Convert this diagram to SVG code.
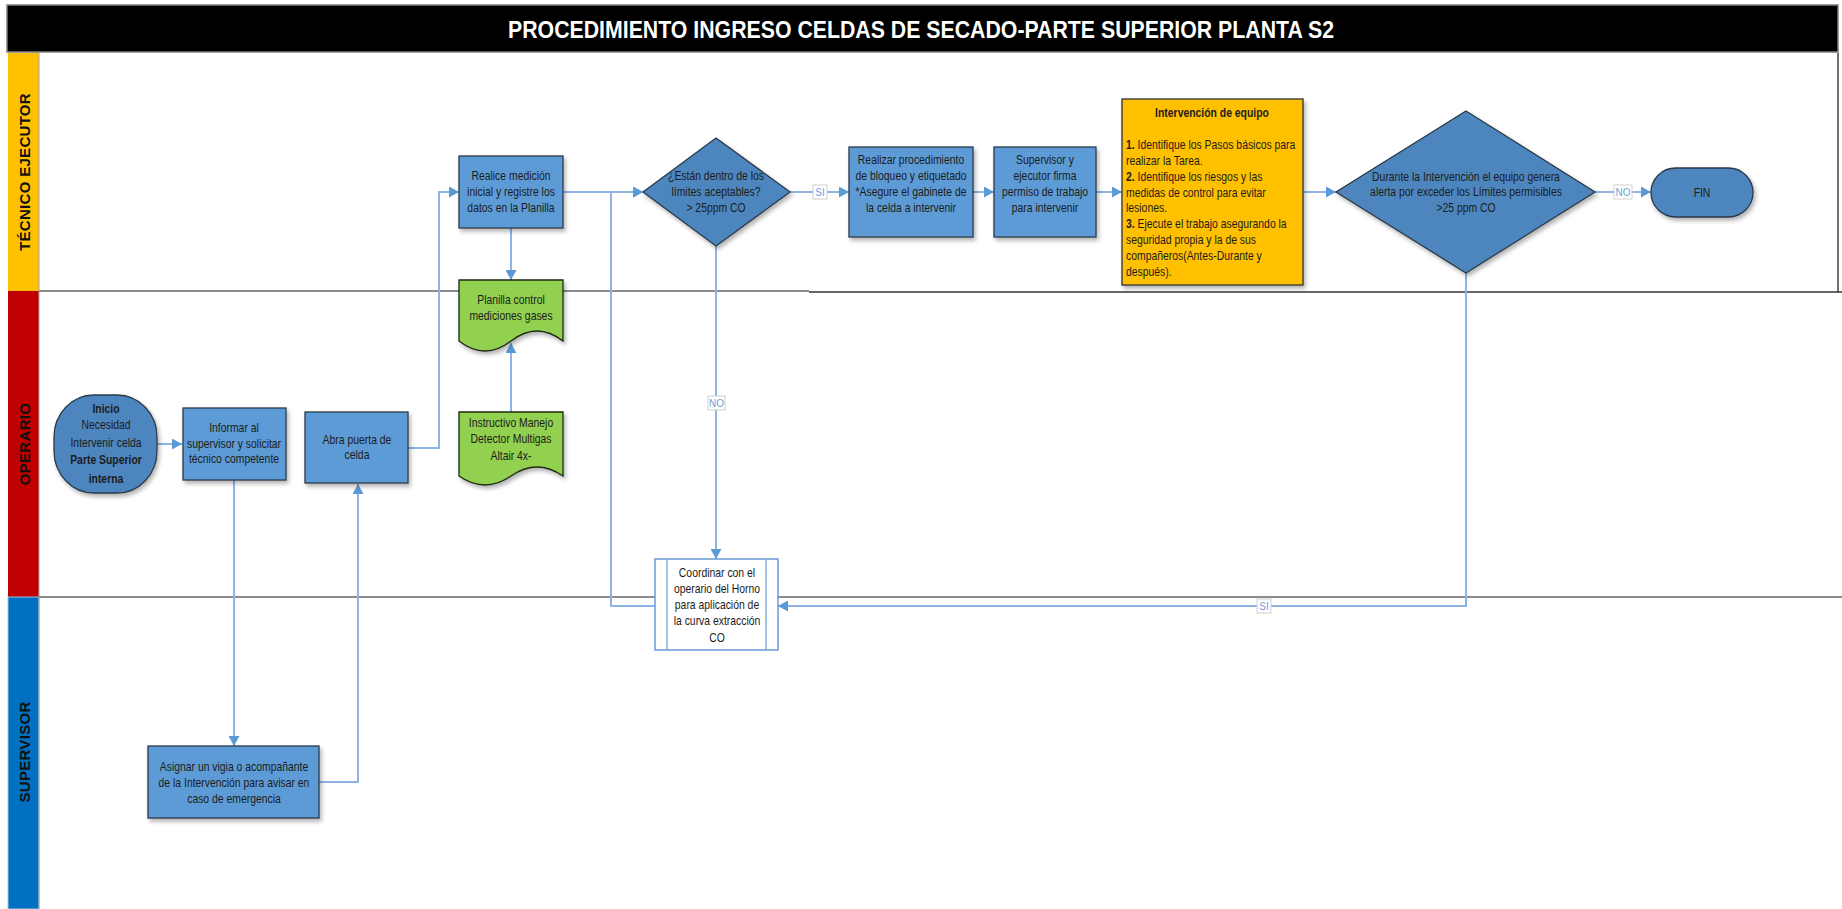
<svg xmlns="http://www.w3.org/2000/svg" width="1842" height="909" viewBox="0 0 1842 909">
<style>
.proc{fill:#5B9BD5;stroke:#2B3A4A;stroke-width:1.3;filter:url(#sh)}
.dec{fill:#4E86BE;stroke:#2B3A4A;stroke-width:1.3;filter:url(#sh)}
.doc{fill:#92D050;stroke:#1F2A12;stroke-width:1.3;filter:url(#sh)}
.note{fill:#FFC000;stroke:#333333;stroke-width:1.3;filter:url(#sh)}
.pre{fill:#FFFFFF;stroke:#6A9BD3;stroke-width:1.5}
.t{font-family:"Liberation Sans",Arial,sans-serif;font-size:13px;fill:#1C1C1C;text-anchor:middle}
.tl{font-family:"Liberation Sans",Arial,sans-serif;font-size:13px;fill:#1C1C1C;text-anchor:start}
.b{font-weight:bold}
.lane{font-family:"Liberation Sans",Arial,sans-serif;font-size:15px;font-weight:bold;fill:#111111;text-anchor:middle;letter-spacing:0.3px}
.c{fill:none;stroke:#8EB4E3;stroke-width:2}
.ca{fill:none;stroke:#8EB4E3;stroke-width:2;marker-end:url(#ar)}
.lb{fill:#FFFFFF;stroke:#D0D0D0;stroke-width:1}
.lt{font-family:"Liberation Sans",Arial,sans-serif;font-size:10px;fill:#6F9FD8;text-anchor:middle}
</style>
<defs>
<marker id="ar" markerWidth="11" markerHeight="11" refX="10" refY="5.5" orient="auto" markerUnits="userSpaceOnUse">
<path d="M0,0 L10,5.5 L0,11 z" fill="#5B9BD5"/>
</marker>
<filter id="sh" x="-10%" y="-10%" width="130%" height="130%">
<feDropShadow dx="2" dy="3" stdDeviation="2" flood-color="#000000" flood-opacity="0.3"/>
</filter>
</defs>
<rect width="1842" height="909" fill="#FFFFFF"/>

<g id="title">
<rect x="7" y="5" width="1831" height="47" fill="#000000" stroke="#7F7F7F" stroke-width="1.5"/>
<text x="921" y="38" font-family="Liberation Sans,Arial,sans-serif" font-size="24" font-weight="bold" fill="#FFFFFF" text-anchor="middle" textLength="826" lengthAdjust="spacingAndGlyphs">PROCEDIMIENTO INGRESO CELDAS DE SECADO-PARTE SUPERIOR PLANTA S2</text>
</g>

<g id="lanes">
<rect x="8" y="53" width="31" height="238" fill="#FFC000"/>
<rect x="8" y="291" width="31" height="306" fill="#C00000"/>
<rect x="8" y="597" width="31" height="312" fill="#0070C0" stroke="#9DC3E6" stroke-width="1"/>
<line x1="39" y1="53" x2="39" y2="909" stroke="#A6A6A6" stroke-width="1"/>
<line x1="1838" y1="53" x2="1838" y2="292" stroke="#404040" stroke-width="1.5"/>
<line x1="39" y1="291" x2="809" y2="291" stroke="#8C8C8C" stroke-width="2"/>
<line x1="809" y1="292" x2="1842" y2="292" stroke="#333333" stroke-width="1.5"/>
<line x1="39" y1="597" x2="1842" y2="597" stroke="#8C8C8C" stroke-width="2"/>
<text class="lane" transform="translate(30,172) rotate(-90)">TÉCNICO EJECUTOR</text>
<text class="lane" transform="translate(30,444) rotate(-90)">OPERARIO</text>
<text class="lane" transform="translate(30,752) rotate(-90)">SUPERVISOR</text>
</g>

<g id="connectors">
<path class="ca" d="M157,444 H182"/>
<path class="ca" d="M234,480 V746"/>
<path class="ca" d="M319,782 H358 V484"/>
<path class="ca" d="M408,448 H439 V192 H459"/>
<path class="ca" d="M511,228 V280"/>
<path class="ca" d="M511,412 V343"/>
<path class="ca" d="M563,192 H643"/>
<path class="ca" d="M655,606 H611 V192 H643"/>
<path class="ca" d="M790,192 H849"/>
<path class="ca" d="M716,246 V559"/>
<path class="ca" d="M973,192 H994"/>
<path class="ca" d="M1096,192 H1122"/>
<path class="ca" d="M1303,192 H1336"/>
<path class="ca" d="M1595,192 H1651"/>
<path class="ca" d="M1466,273 V606 H778"/>
<rect class="lb" x="813" y="185" width="14" height="14"/>
<text class="lt" x="820" y="196">SI</text>
<rect class="lb" x="708" y="396" width="17" height="14"/>
<text class="lt" x="716.5" y="407">NO</text>
<rect class="lb" x="1614" y="185" width="18" height="14"/>
<text class="lt" x="1623" y="196">NO</text>
<rect class="lb" x="1257" y="599" width="14" height="14"/>
<text class="lt" x="1264" y="610">SI</text>
</g>

<g id="inicio">
<rect class="dec" x="54" y="395" width="103" height="98" rx="40" ry="42"/>
<g transform="translate(106,0) scale(0.8,1)">
<text class="t b" x="0" y="413">Inicio</text>
<text class="t" x="0" y="429">Necesidad</text>
<text class="t" x="0" y="447">Intervenir celda</text>
<text class="t b" x="0" y="464" font-size="14">Parte Superior</text>
<text class="t b" x="0" y="483" font-size="14">interna</text>
</g>
</g>

<g id="informar">
<rect class="proc" x="183" y="408" width="103" height="72"/>
<g transform="translate(234,0) scale(0.8,1)">
<text class="t" x="0" y="432">Informar al</text>
<text class="t" x="0" y="448">supervisor y solicitar</text>
<text class="t" x="0" y="463">técnico competente</text>
</g>
</g>

<g id="abra">
<rect class="proc" x="305" y="412" width="103" height="71"/>
<g transform="translate(357,0) scale(0.8,1)">
<text class="t" x="0" y="444">Abra puerta de</text>
<text class="t" x="0" y="459">celda</text>
</g>
</g>

<g id="realice">
<rect class="proc" x="459" y="156" width="104" height="72"/>
<g transform="translate(511,0) scale(0.8,1)">
<text class="t" x="0" y="180">Realice medición</text>
<text class="t" x="0" y="196">inicial y registre los</text>
<text class="t" x="0" y="212">datos en la Planilla</text>
</g>
</g>

<g id="planilla">
<path class="doc" d="M459,280 H563 V341 Q537,321 511,341 Q485,361 459,341 Z"/>
<g transform="translate(511,0) scale(0.8,1)">
<text class="t" x="0" y="304">Planilla control</text>
<text class="t" x="0" y="320">mediciones gases</text>
</g>
</g>

<g id="instructivo">
<path class="doc" d="M459,412 H563 V476 Q537,458 511,476 Q485,494 459,476 Z"/>
<g transform="translate(511,0) scale(0.8,1)">
<text class="t" x="0" y="427">Instructivo Manejo</text>
<text class="t" x="0" y="443">Detector Multigas</text>
<text class="t" x="0" y="460">Altair 4x-</text>
</g>
</g>

<g id="decision1">
<polygon class="dec" points="716,138 790,192 716,246 643,192"/>
<g transform="translate(716,0) scale(0.8,1)">
<text class="t" x="0" y="180">¿Están dentro de los</text>
<text class="t" x="0" y="196">límites aceptables?</text>
<text class="t" x="0" y="212">&gt; 25ppm CO</text>
</g>
</g>

<g id="realizar">
<rect class="proc" x="849" y="147" width="124" height="90"/>
<g transform="translate(911,0) scale(0.8,1)">
<text class="t" x="0" y="164">Realizar procedimiento</text>
<text class="t" x="0" y="180">de bloqueo y etiquetado</text>
<text class="t" x="0" y="196">*Asegure el gabinete de</text>
<text class="t" x="0" y="212">la celda a intervenir</text>
</g>
</g>

<g id="supervisor">
<rect class="proc" x="994" y="147" width="102" height="90"/>
<g transform="translate(1045,0) scale(0.8,1)">
<text class="t" x="0" y="164">Supervisor y</text>
<text class="t" x="0" y="180">ejecutor firma</text>
<text class="t" x="0" y="196">permiso de trabajo</text>
<text class="t" x="0" y="212">para intervenir</text>
</g>
</g>

<g id="intervencion">
<rect class="note" x="1122" y="99" width="181" height="186"/>
<g transform="translate(1212,0) scale(0.8,1)">
<text class="t b" x="0" y="117">Intervención de equipo</text>
</g>
<g transform="translate(1126,0) scale(0.8,1)">
<text class="tl" x="0" y="149"><tspan class="b">1.</tspan> Identifique los Pasos básicos para</text>
<text class="tl" x="0" y="165">realizar la Tarea.</text>
<text class="tl" x="0" y="181"><tspan class="b">2.</tspan> Identifique los riesgos y las</text>
<text class="tl" x="0" y="197">medidas de control para evitar</text>
<text class="tl" x="0" y="212">lesiones.</text>
<text class="tl" x="0" y="228"><tspan class="b">3.</tspan> Ejecute el trabajo asegurando la</text>
<text class="tl" x="0" y="244">seguridad propia y la de sus</text>
<text class="tl" x="0" y="260">compañeros(Antes-Durante y</text>
<text class="tl" x="0" y="276">después).</text>
</g>
</g>

<g id="decision2">
<polygon class="dec" points="1466,111 1595,192 1466,273 1336,192"/>
<g transform="translate(1466,0) scale(0.8,1)">
<text class="t" x="0" y="181">Durante la Intervención el equipo genera</text>
<text class="t" x="0" y="196">alerta por exceder los Límites permisibles</text>
<text class="t" x="0" y="212">&gt;25 ppm CO</text>
</g>
</g>

<g id="fin">
<rect class="dec" x="1651" y="168" width="102" height="49" rx="24.5"/>
<g transform="translate(1702,0) scale(0.8,1)">
<text class="t" x="0" y="197">FIN</text>
</g>
</g>

<g id="coordinar">
<rect class="pre" x="655" y="559" width="123" height="91"/>
<line x1="667" y1="559" x2="667" y2="650" stroke="#6A9BD3" stroke-width="1.2"/>
<line x1="766" y1="559" x2="766" y2="650" stroke="#6A9BD3" stroke-width="1.2"/>
<g transform="translate(717,0) scale(0.8,1)">
<text class="t" x="0" y="577">Coordinar con el</text>
<text class="t" x="0" y="593">operario del Horno</text>
<text class="t" x="0" y="609">para aplicación de</text>
<text class="t" x="0" y="625">la curva extracción</text>
<text class="t" x="0" y="642">CO</text>
</g>
</g>

<g id="asignar">
<rect class="proc" x="148" y="746" width="171" height="72"/>
<g transform="translate(234,0) scale(0.8,1)">
<text class="t" x="0" y="771">Asignar un vigia o acompañante</text>
<text class="t" x="0" y="787">de la Intervención para avisar en</text>
<text class="t" x="0" y="803">caso de emergencia</text>
</g>
</g>
</svg>
